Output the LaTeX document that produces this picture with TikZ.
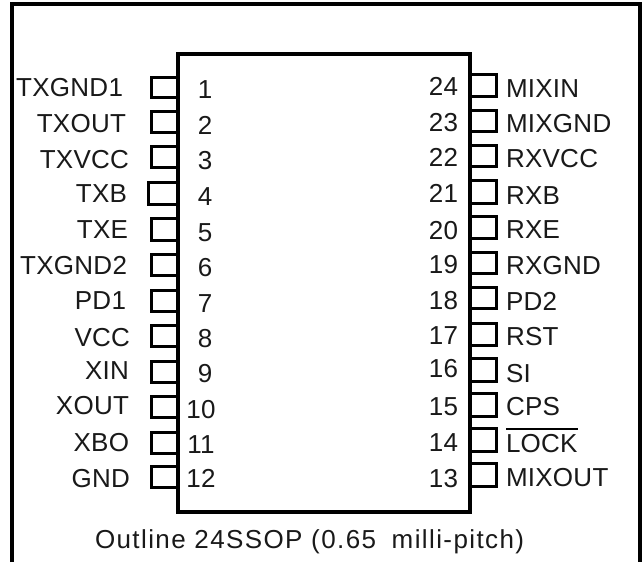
\documentclass[tikz,border=0pt]{standalone}
\usepackage{fontspec}
\setmainfont{Liberation Sans}
\tikzset{
  lbl/.style={inner sep=0pt,outer sep=0pt,font=\fontsize{26}{26}\selectfont\addfontfeature{LetterSpace=1},text=black!90},
  caption/.style={lbl,font=\fontsize{26}{26}\selectfont\addfontfeature{LetterSpace=5.4}},
  frameline/.style={line width=4.5pt,line cap=butt,miter limit=10},
  chip/.style={line width=4pt},
  pinbox/.style={line width=3pt},
  barline/.style={line width=2.5pt},
}
\begin{document}
\begin{tikzpicture}[x=1pt,y=-1pt]
\useasboundingbox (0,0) rectangle (644,562);
\fill[white] (0,0) rectangle (644,562);
\coordinate (fbl) at (12,562);
\coordinate (ftl) at (12,4);
\coordinate (ftr) at (640,4);
\coordinate (fbr) at (640,562);
\draw[frameline] (fbl) -- (ftl) -- (ftr) -- (fbr);
\coordinate (cl) at (177.5,54);
\coordinate (cr) at (470,512);
\draw[chip] (cl) rectangle (cr);
% left pins: x, top, bottom
\foreach \x/\a/\b in {151/77/97,151/111/132,151/146/167,148.5/182/204,151/218/240,151/254/275,151/290/311,151/325/346,151/361/382,151/396/417,151/432/453,151/466/487}
  \draw[pinbox] (177,\a) -- (\x,\a) -- (\x,\b) -- (177,\b);
% right pins
\foreach \a/\b in {74/96,110/131,145/166,180/203,216/238,252/273,287/308,323/345,358/381,393/416,428/451,463/486}
  \draw[pinbox] (471,\a) -- (496.5,\a) -- (496.5,\b) -- (471,\b);
% left labels
\foreach \t/\x/\y [count=\i] in {TXGND1/123/96,TXOUT/126/132,TXVCC/129/168,TXB/127/202,TXE/128/238,TXGND2/127/274,PD1/126/309,VCC/130/346,XIN/129/379,XOUT/129/414,XBO/129/451,GND/130/487}
  \node[lbl,anchor=base east] (L\i) at (\x,\y) {\t};
% left numbers
\foreach \n/\x/\y in {1/205/98,2/205/134,3/205/169,4/205/205,5/205/241,6/205/276,7/205/312,8/205/347,9/205/382,10/201/418,11/201/453,12/201/487}
  \node[lbl,anchor=base] (N\n) at (\x,\y) {\n};
% right numbers
\foreach \n/\y in {24/95,23/131,22/166,21/202,20/239,19/273,18/309,17/344,16/377,15/415,14/451,13/487}
  \node[lbl,anchor=base east] (N\n) at (458,\y) {\n};
% right labels
\foreach \t/\y [count=\i] in {MIXIN/97,MIXGND/132,RXVCC/167,RXB/204,RXE/238,RXGND/274,PD2/310,RST/345,SI/382,CPS/415,LOCK/452,MIXOUT/486}
  \node[lbl,anchor=base west] (R\i) at (506,\y) {\t};
\draw[barline] ([yshift=23pt]R11.base west) -- ([yshift=23pt]R11.base east);
\node[caption,anchor=base west] (cap) at (95,548) {Outline 24SSOP (0.65\hspace{0.6em}milli-pitch)};
\end{tikzpicture}
\end{document}
